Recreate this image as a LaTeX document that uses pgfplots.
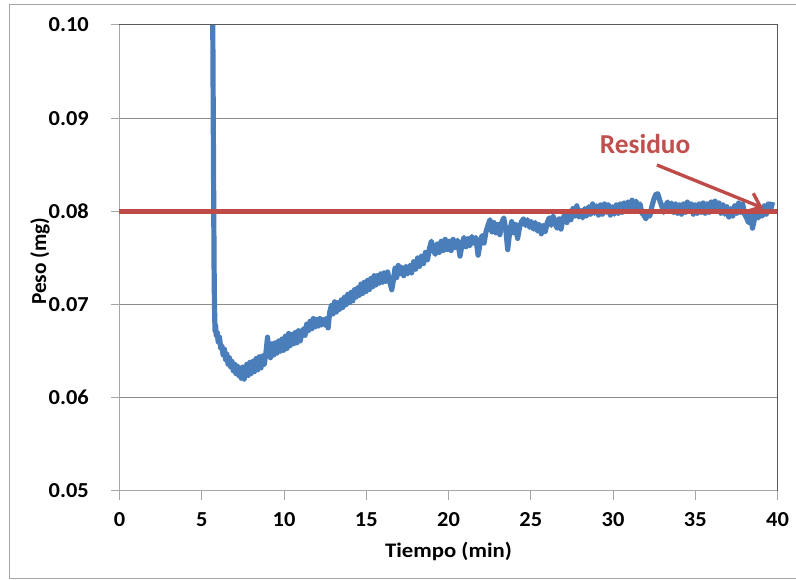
\documentclass[border=0pt]{standalone}
\usepackage{fontspec}
\setmainfont{Carlito}
\newfontfamily\wfont{Carlito}[FakeStretch=1.05]
\newfontfamily\xfont{Carlito}[FakeStretch=1.1]
\usepackage{pgfplots}
\pgfplotsset{compat=1.18}
\usetikzlibrary{arrows.meta}
\definecolor{xblue}{HTML}{4A7EBB}
\definecolor{xred}{HTML}{BE4B48}
\definecolor{xtext}{HTML}{C0504D}
\definecolor{xgrid}{HTML}{8C8C8C}
\definecolor{xaxis}{HTML}{A6A6A6}
\definecolor{xdark}{HTML}{595959}
\pgfplotstableread{
x y
5.67 0.1000
5.70 0.0900
5.73 0.0800
5.75 0.0740
5.77 0.0705
5.79 0.0685
5.81 0.0672
5.84 0.0678
5.88 0.0667
5.94 0.0670
6.00 0.0660
6.08 0.0665
6.15 0.0653
6.22 0.0656
6.30 0.0646
6.38 0.0652
6.45 0.0641
6.52 0.0647
6.60 0.0636
6.68 0.0643
6.76 0.0633
6.84 0.0639
6.92 0.0629
7.00 0.0636
7.08 0.0626
7.16 0.0634
7.24 0.0624
7.32 0.0632
7.40 0.0621
7.50 0.0633
7.58 0.0620
7.66 0.0631
7.75 0.0636
7.83 0.0624
7.92 0.0638
8.00 0.0626
8.10 0.0639
8.20 0.0628
8.30 0.0642
8.40 0.0630
8.50 0.0644
8.60 0.0632
8.70 0.0645
8.80 0.0636
8.90 0.0648
9.00 0.0665
9.08 0.0650
9.18 0.0643
9.28 0.0658
9.38 0.0646
9.48 0.0659
9.58 0.0648
9.68 0.0661
9.78 0.0650
9.88 0.0663
9.98 0.0651
10.08 0.0666
10.18 0.0653
10.28 0.0669
10.38 0.0656
10.48 0.0668
10.58 0.0658
10.68 0.0670
10.78 0.0659
10.88 0.0672
10.98 0.0661
11.08 0.0668
11.18 0.0674
11.28 0.0667
11.38 0.0679
11.48 0.0672
11.58 0.0682
11.68 0.0674
11.78 0.0685
11.88 0.0676
11.98 0.0684
12.08 0.0677
12.18 0.0685
12.28 0.0678
12.38 0.0684
12.48 0.0678
12.58 0.0685
12.68 0.0675
12.78 0.0692
12.88 0.0699
12.98 0.0690
13.08 0.0703
13.18 0.0692
13.28 0.0702
13.38 0.0695
13.48 0.0705
13.58 0.0697
13.68 0.0708
13.78 0.0700
13.88 0.0711
13.98 0.0702
14.08 0.0713
14.18 0.0704
14.28 0.0716
14.38 0.0708
14.48 0.0718
14.58 0.0710
14.68 0.0722
14.78 0.0712
14.88 0.0724
14.98 0.0714
15.08 0.0726
15.18 0.0716
15.28 0.0728
15.38 0.0719
15.48 0.0731
15.58 0.0721
15.68 0.0731
15.78 0.0723
15.88 0.0733
15.98 0.0724
16.08 0.0734
16.18 0.0725
16.30 0.0735
16.42 0.0725
16.55 0.0716
16.65 0.0726
16.75 0.0739
16.85 0.0729
16.95 0.0742
17.05 0.0733
17.15 0.0740
17.28 0.0731
17.40 0.0741
17.52 0.0733
17.64 0.0742
17.76 0.0734
17.88 0.0746
18.00 0.0738
18.12 0.0750
18.24 0.0741
18.36 0.0752
18.48 0.0744
18.60 0.0756
18.72 0.0748
18.84 0.0760
18.96 0.0768
19.08 0.0758
19.20 0.0754
19.32 0.0765
19.44 0.0756
19.56 0.0768
19.68 0.0758
19.80 0.0770
19.92 0.0759
20.04 0.0768
20.16 0.0758
20.28 0.0770
20.40 0.0761
20.55 0.0769
20.70 0.0752
20.82 0.0764
20.94 0.0772
21.06 0.0762
21.18 0.0771
21.30 0.0763
21.42 0.0773
21.54 0.0766
21.66 0.0772
21.80 0.0753
21.92 0.0766
22.04 0.0774
22.16 0.0766
22.28 0.0778
22.40 0.0785
22.52 0.0791
22.64 0.0778
22.76 0.0788
22.88 0.0777
23.00 0.0786
23.12 0.0775
23.24 0.0788
23.36 0.0793
23.48 0.0781
23.60 0.0759
23.72 0.0778
23.84 0.0789
23.96 0.0777
24.08 0.0786
24.20 0.0771
24.32 0.0783
24.44 0.0789
24.56 0.0792
24.68 0.0785
24.80 0.0791
24.92 0.0783
25.04 0.0789
25.16 0.0781
25.28 0.0788
25.40 0.0779
25.52 0.0786
25.64 0.0776
25.76 0.0785
25.88 0.0778
26.00 0.0788
26.12 0.0793
26.24 0.0785
26.36 0.0795
26.48 0.0787
26.60 0.0782
26.72 0.0792
26.84 0.0781
26.96 0.0793
27.08 0.0796
27.20 0.0788
27.32 0.0800
27.44 0.0791
27.56 0.0803
27.68 0.0795
27.80 0.0806
27.92 0.0794
28.04 0.0801
28.16 0.0793
28.28 0.0803
28.40 0.0795
28.52 0.0805
28.64 0.0797
28.76 0.0808
28.88 0.0798
29.00 0.0806
29.12 0.0796
29.24 0.0807
29.36 0.0797
29.48 0.0808
29.60 0.0799
29.72 0.0807
29.84 0.0796
29.96 0.0805
30.08 0.0797
30.20 0.0807
30.32 0.0798
30.44 0.0808
30.56 0.0799
30.68 0.0809
30.80 0.0800
30.92 0.0810
31.04 0.0801
31.16 0.0812
31.28 0.0803
31.40 0.0811
31.52 0.0801
31.64 0.0808
31.76 0.0798
31.88 0.0796
32.00 0.0792
32.12 0.0799
32.24 0.0795
32.36 0.0805
32.48 0.0813
32.60 0.0818
32.72 0.0819
32.84 0.0812
32.96 0.0806
33.08 0.0799
33.20 0.0806
33.32 0.0810
33.44 0.0801
33.56 0.0809
33.68 0.0799
33.80 0.0808
33.92 0.0798
34.04 0.0807
34.16 0.0797
34.28 0.0808
34.40 0.0799
34.52 0.0810
34.64 0.0800
34.76 0.0808
34.88 0.0797
35.00 0.0807
35.12 0.0798
35.24 0.0808
35.36 0.0799
35.48 0.0809
35.60 0.0798
35.72 0.0808
35.84 0.0799
35.96 0.0810
36.08 0.0800
36.20 0.0811
36.32 0.0801
36.44 0.0809
36.56 0.0798
36.68 0.0807
36.80 0.0797
36.92 0.0805
37.04 0.0794
37.16 0.0803
37.28 0.0795
37.40 0.0806
37.52 0.0798
37.64 0.0809
37.76 0.0799
37.88 0.0808
38.00 0.0797
38.12 0.0793
38.24 0.0788
38.36 0.0797
38.48 0.0782
38.60 0.0792
38.72 0.0801
38.84 0.0793
38.96 0.0802
39.08 0.0795
39.20 0.0806
39.32 0.0797
39.44 0.0808
39.56 0.0800
39.70 0.0810
}\pesodata
\begin{document}
\begin{tikzpicture}
\useasboundingbox (-89.625pt,-66.75pt) rectangle (507.375pt,368.25pt);
\draw[xaxis, line width=0.75pt] (512pt,364.5pt) -- (-82.125pt,364.5pt) -- (-82.125pt,-66pt) -- (512pt,-66pt);
\begin{axis}[
  at={(0pt,0pt)}, anchor=south west,
  scale only axis, width=493.5pt, height=349.5pt,
  xmin=0, xmax=40, ymin=0.05, ymax=0.10,
  xtick={0,5,10,15,20,25,30,35,40},
  ytick={0.05,0.06,0.07,0.08,0.09,0.10},
  scaled y ticks=false,
  ymajorgrids, grid style={xgrid, line width=0.75pt},
  axis line style={xaxis, line width=0.75pt},
  tick style={xaxis, line width=0.75pt},
  tick align=outside, major tick length=6.5pt,
  xtick pos=left, ytick pos=left,
  yticklabel style={xshift=-13pt, /pgf/number format/fixed, /pgf/number format/fixed zerofill, /pgf/number format/precision=2},
  xticklabel style={yshift=-6pt},
  /pgf/number format/assume math mode=true,
  tick label style={font=\wfont\bfseries\fontsize{16}{19}\selectfont},
  clip=false,
]
\addplot[xblue, line width=3.9pt, line join=round] table[x=x,y=y] {\pesodata};
\addplot[xred, line width=3.2pt] coordinates {(0,0.08) (40,0.08)};
\draw[xdark, line width=0.75pt] (rel axis cs:0,1) -- (rel axis cs:1,1) -- (rel axis cs:1,0);
\draw[xred, line width=2.5pt, -{Straight Barb[length=9pt,width=15pt]}] (axis cs:32.67,0.08498) -- (axis cs:39.12,0.08036);
\node[text=xtext, font=\bfseries\fontsize{20.5}{24}\selectfont] at (axis cs:31.95,0.08723) {Residuo};
\node[font=\xfont\bfseries\fontsize{15.5}{18}\selectfont] at (axis cs:20,0.04356) {Tiempo (min)};
\node[font=\bfseries\fontsize{16}{19}\selectfont, rotate=90] at (axis cs:-4.83,0.07465) {Peso (mg)};
\end{axis}
\end{tikzpicture}
\end{document}
